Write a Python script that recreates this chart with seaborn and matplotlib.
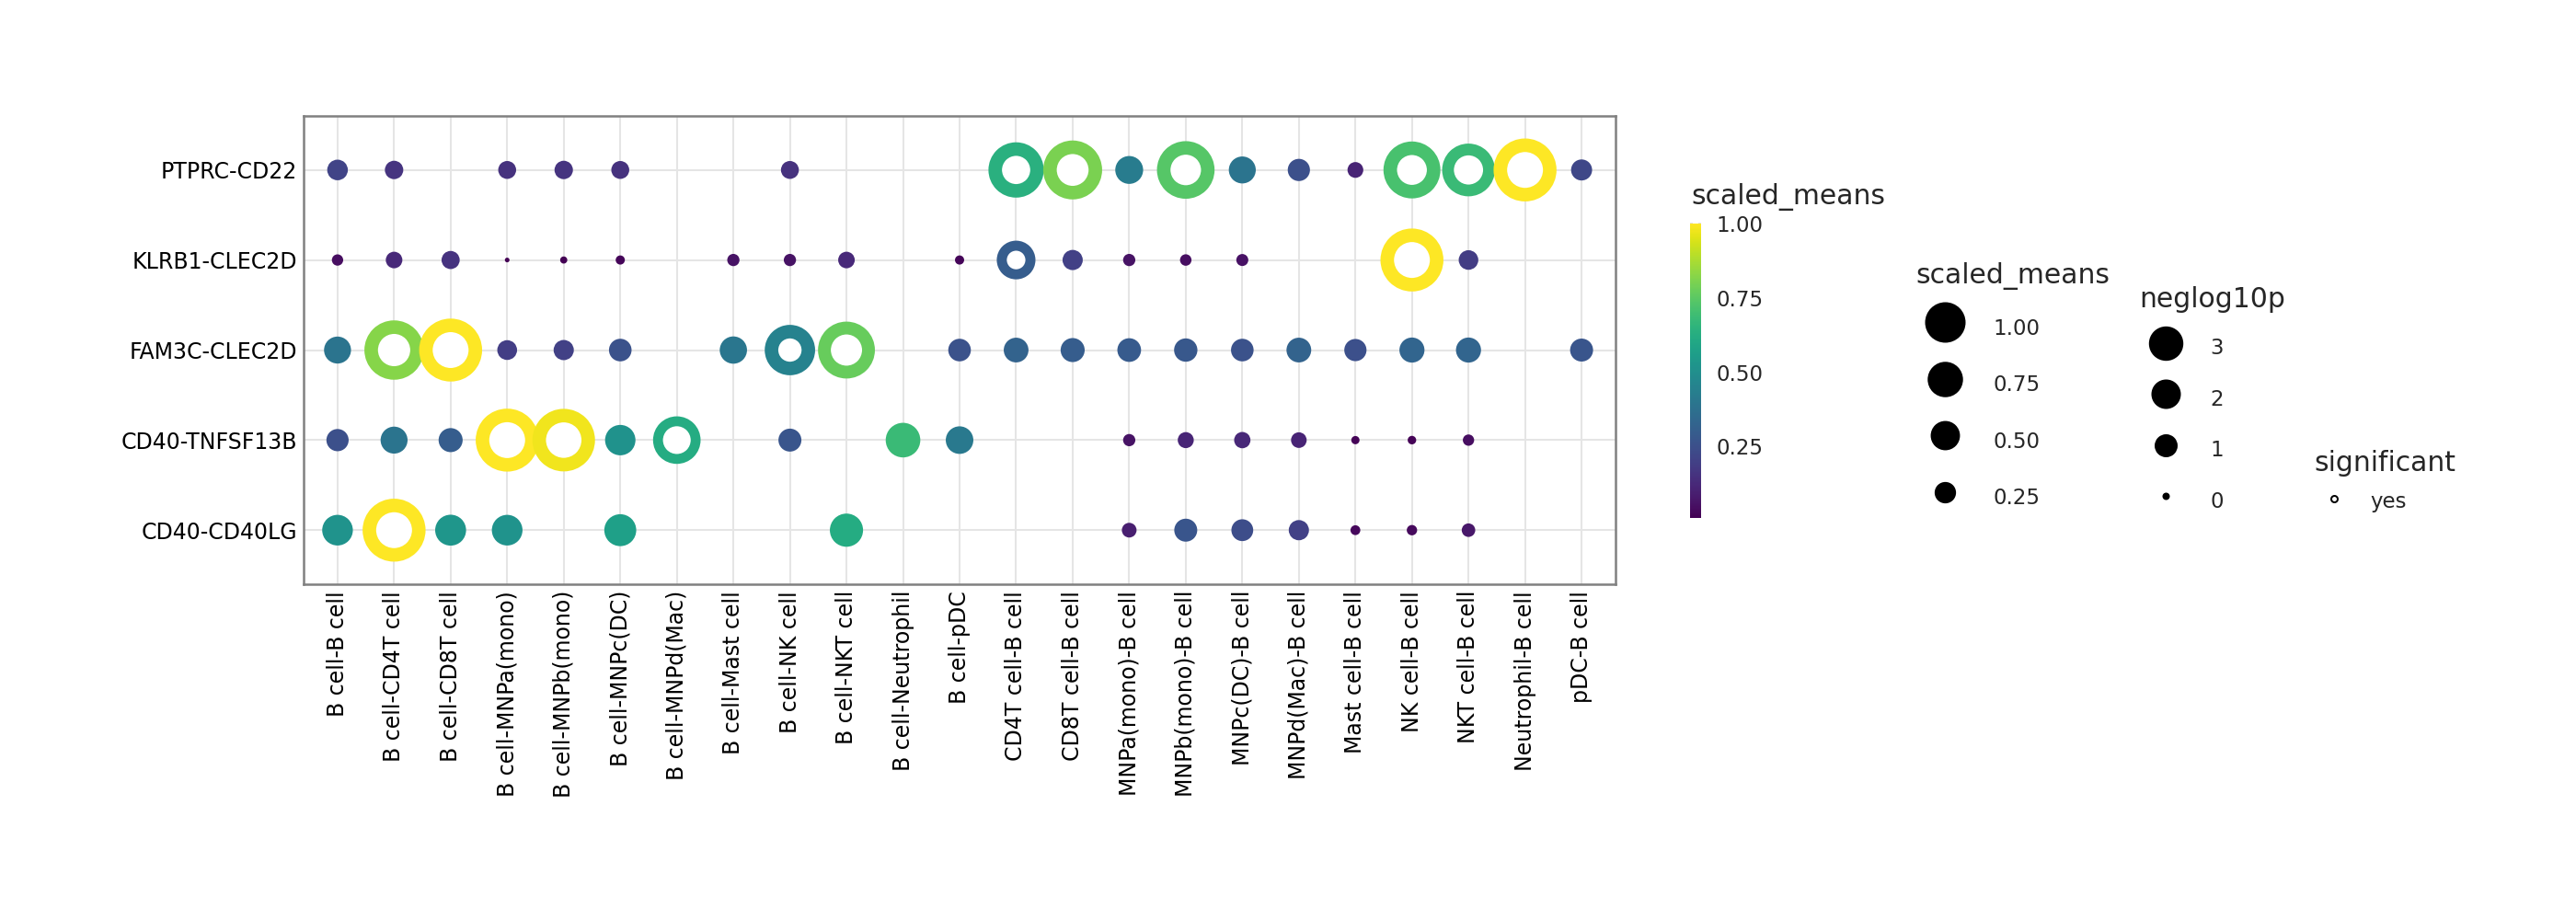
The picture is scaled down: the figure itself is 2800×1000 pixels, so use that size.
import numpy as np
import pandas as pd
import matplotlib
matplotlib.use("Agg")
import matplotlib.pyplot as plt
from matplotlib.lines import Line2D
from matplotlib.colors import Normalize
from matplotlib.cm import ScalarMappable
import seaborn as sns

sns.set_style("white")
plt.rcParams["font.family"] = ["DejaVu Sans"]

# rows (top to bottom) and cell-type pairs (left to right)
interactions = ["PTPRC-CD22", "KLRB1-CLEC2D", "FAM3C-CLEC2D",
                "CD40-TNFSF13B", "CD40-CD40LG"]
pairs = ["B cell-B cell", "B cell-CD4T cell", "B cell-CD8T cell",
         "B cell-MNPa(mono)", "B cell-MNPb(mono)", "B cell-MNPc(DC)",
         "B cell-MNPd(Mac)", "B cell-Mast cell", "B cell-NK cell",
         "B cell-NKT cell", "B cell-Neutrophil", "B cell-pDC",
         "CD4T cell-B cell", "CD8T cell-B cell", "MNPa(mono)-B cell",
         "MNPb(mono)-B cell", "MNPc(DC)-B cell", "MNPd(Mac)-B cell",
         "Mast cell-B cell", "NK cell-B cell", "NKT cell-B cell",
         "Neutrophil-B cell", "pDC-B cell"]

nan = np.nan
# values (nan = no dot)
scaled_means = [
    [0.21, 0.16, nan, 0.15, 0.16, 0.15, nan, nan, 0.15, nan, nan, nan,
     0.64, 0.80, 0.42, 0.74, 0.39, 0.25, 0.11, 0.71, 0.68, 1.00, 0.22],
    [0.046, 0.124, 0.154, 0.01, 0.011, 0.025, nan, 0.057, 0.057, 0.124, nan, 0.025,
     0.30, 0.20, 0.057, 0.048, 0.054, nan, nan, 1.00, 0.186, nan, nan],
    [0.39, 0.82, 1.00, 0.19, 0.20, 0.26, nan, 0.40, 0.45, 0.77, nan, 0.26,
     0.32, 0.30, 0.29, 0.28, 0.26, 0.32, 0.25, 0.33, 0.33, nan, 0.27],
    [0.25, 0.39, 0.30, 1.00, 0.98, 0.51, 0.62, nan, 0.27, nan, 0.68, 0.41,
     nan, nan, 0.057, 0.114, 0.119, 0.107, 0.018, 0.02, 0.046, nan, nan],
    [0.52, 1.00, 0.53, 0.52, nan, 0.57, nan, nan, nan, 0.62, nan, nan,
     nan, nan, 0.092, 0.27, 0.24, 0.20, 0.031, 0.036, 0.074, nan, nan],
]
neglog10p = [
    [0.12, 0.12, nan, 0.12, 0.12, 0.12, nan, nan, 0.12, nan, nan, nan,
     3.0, 3.0, 0.12, 3.0, 0.12, 0.12, 0.12, 3.0, 2.27, 3.0, 0.12],
    [0.12, 0.12, 0.12, 0.04, 0.12, 0.12, nan, 0.12, 0.12, 0.12, nan, 0.12,
     1.65, 0.12, 0.12, 0.12, 0.12, nan, nan, 3.0, 0.12, nan, nan],
    [0.12, 3.0, 3.0, 0.12, 0.12, 0.12, nan, 0.12, 3.0, 2.7, nan, 0.12,
     0.12, 0.12, 0.12, 0.12, 0.12, 0.12, 0.12, 0.12, 0.12, nan, 0.12],
    [0.12, 0.12, 0.12, 3.0, 3.0, 0.12, 1.6, nan, 0.12, nan, 0.12, 0.12,
     nan, nan, 0.12, 0.12, 0.12, 0.12, 0.12, 0.12, 0.12, nan, nan],
    [0.12, 3.0, 0.12, 0.12, nan, 0.12, nan, nan, nan, 0.12, nan, nan,
     nan, nan, 0.12, 0.12, 0.12, 0.12, 0.12, 0.12, 0.12, nan, nan],
]
alpha = 0.05
size_breaks = [1.00, 0.75, 0.50, 0.25]
p_breaks = [3, 2, 1, 0]
cbar_ticks = [0.25, 0.50, 0.75, 1.00]

DPI = 100
PT = 72 / DPI


def size_px(v):
    return np.maximum(-2.5 + 41.5 * np.sqrt(v), 1.0)


def stroke_px(n):
    return 14.7 * np.sqrt(np.asarray(n, dtype=float) / 3.0)


rows = []
for i, inter in enumerate(interactions):
    for j, pair in enumerate(pairs):
        v = scaled_means[i][j]
        if np.isnan(v):
            continue
        rows.append({"x": j, "y": i, "scaled_means": v, "neglog10p": neglog10p[i][j]})
df = pd.DataFrame(rows)
df["significant"] = df["neglog10p"] > -np.log10(alpha)

vmin, vmax = df["scaled_means"].min(), df["scaled_means"].max()
st = stroke_px(df["neglog10p"].values)
diam = size_px(df["scaled_means"].values) + st

fig = plt.figure(figsize=(28, 10), dpi=DPI)
ax = fig.add_axes([330 / 2800, 1 - 635 / 1000, 1426 / 2800, 509 / 1000])
ax.set_axisbelow(True)

sns.scatterplot(data=df, x="x", y="y", hue="scaled_means", palette="viridis",
                hue_norm=(vmin, vmax), s=(diam * PT) ** 2, linewidth=st * PT,
                legend=False, ax=ax, zorder=3)
pts = ax.collections[-1]
fc = pts.get_facecolors().copy()
pts.set_edgecolors(fc.copy())
fc[df["significant"].values] = (1, 1, 1, 1)
pts.set_facecolors(fc)

ax.set_xlim(-0.6, len(pairs) - 0.4)
ax.set_ylim(len(interactions) - 0.4, -0.6)
ax.set_xticks(range(len(pairs)))
ax.set_xticklabels(pairs, rotation=90, ha="center", va="top")
ax.set_yticks(range(len(interactions)))
ax.set_yticklabels(interactions)
ax.set_xlabel("")
ax.set_ylabel("")
ax.tick_params(length=0, labelsize=17, pad=5, labelcolor="black")
ax.grid(True, color="#e5e5e5", linewidth=1.45)
for sp in ax.spines.values():
    sp.set_color("#808080")
    sp.set_linewidth(1.8)

# colour bar
norm = Normalize(vmin=vmin, vmax=vmax)
cax = fig.add_axes([1837 / 2800, 1 - 563 / 1000, 12 / 2800, 320 / 1000])
cb = fig.colorbar(ScalarMappable(norm=norm, cmap="viridis"), cax=cax, ticks=cbar_ticks)
cb.outline.set_visible(False)
cb.ax.set_yticklabels([f"{t:.2f}" for t in cbar_ticks])
cax.yaxis.set_ticks_position("both")
cax.tick_params(labelsize=16.5, length=2.5, width=1.2, color="#dddddd",
                direction="in", pad=12, labelleft=False, labelright=True)
fig.text(1838 / 2800, 1 - 222 / 1000, "scaled_means", fontsize=21.5,
         ha="left", va="baseline")

leg_kw = dict(loc="upper left", frameon=False, alignment="left", borderpad=0,
              borderaxespad=0, fontsize=16.5, title_fontsize=21.5)

# size legend for scaled_means
h_size = [Line2D([], [], ls="", marker="o", color="black",
                 markersize=(size_px(b) + 2.5) * PT, markeredgewidth=2.5 * PT)
          for b in size_breaks]
leg1 = fig.legend(h_size, [f"{b:.2f}" for b in size_breaks], title="scaled_means",
                  bbox_to_anchor=(2082 / 2800, 1 - 285 / 1000), handlelength=2.8,
                  handletextpad=0.87, labelspacing=0.96, handleheight=2.27, **leg_kw)

# stroke legend for neglog10p
h_p = [Line2D([], [], ls="", marker="o", color="black",
              markersize=(8 + stroke_px(b)) * PT, markeredgewidth=stroke_px(b) * PT)
       for b in p_breaks]
leg2 = fig.legend(h_p, [str(b) for b in p_breaks], title="neglog10p",
                  bbox_to_anchor=(2325 / 2800, 1 - 311 / 1000), handlelength=2.53,
                  handletextpad=0.83, labelspacing=0.88, handleheight=2.0, **leg_kw)

# significant legend
h_sig = [Line2D([], [], ls="", marker="o", markerfacecolor="white",
                markeredgecolor="black", markersize=7 * PT, markeredgewidth=2 * PT)]
leg3 = fig.legend(h_sig, ["yes"], title="significant",
                  bbox_to_anchor=(2515 / 2800, 1 - 489 / 1000), handlelength=1.92,
                  handletextpad=0.74, labelspacing=0.6, handleheight=1.3, **leg_kw)

fig.savefig("out.png", dpi=DPI)
